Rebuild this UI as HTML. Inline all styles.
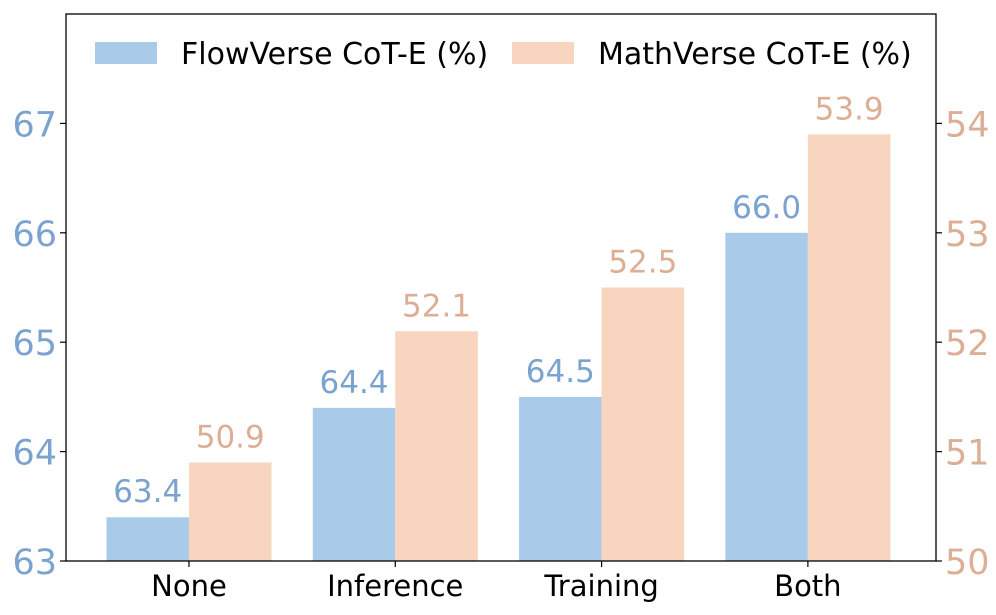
<!DOCTYPE html>
<html><head><meta charset="utf-8"><style>
body{margin:0;background:#fff;}
svg{display:block;font-family:"DejaVu Sans","Liberation Sans",sans-serif;}
</style></head><body>
<svg id="chart" width="996" height="615"></svg>
<script>
const categories=["None","Inference","Training","Both"];
const flowValues=[63.4,64.4,64.5,66.0];
const mathValues=[50.9,52.1,52.5,53.9];
const leftTicks=[63,64,65,66,67];
const rightTicks=[50,51,52,53,54];
const L=66,R=936,T=14,B=561;
const yL=v=>B-(v-63)/(68-63)*(B-T);
const yR=v=>B-(v-50)/(55-50)*(B-T);
const step=206.3;
const xC=i=>65.2+(i+0.6)*step;
const bw=step*0.4;
const svg=document.getElementById('chart');
const NS='http://www.w3.org/2000/svg';
function mk(tag,attrs,txt){const e=document.createElementNS(NS,tag);for(const k in attrs)e.setAttribute(k,attrs[k]);if(txt!==undefined)e.textContent=txt;svg.appendChild(e);return e;}
categories.forEach((c,i)=>{
  let b=mk('rect',{x:xC(i)-bw,y:yL(flowValues[i]),width:bw,height:B-yL(flowValues[i]),fill:'#a9cbe9'});
  
  
  let o=mk('rect',{x:xC(i),y:yR(mathValues[i]),width:bw,height:B-yR(mathValues[i]),fill:'#f8d5bf'});
  
  
  let t1=mk('text',{x:xC(i)-bw/2,y:yL(flowValues[i])-15,'text-anchor':'middle','font-size':31,fill:'#7ba3cf'},flowValues[i].toFixed(1));
  
  
  let t2=mk('text',{x:xC(i)+bw/2,y:yR(mathValues[i])-15,'text-anchor':'middle','font-size':31,fill:'#dcae95'},mathValues[i].toFixed(1));
  
  
  mk('line',{x1:xC(i),x2:xC(i),y1:B,y2:B+6,stroke:'#000','stroke-width':1.2});
  let cl=mk('text',{x:xC(i),y:B+35,'text-anchor':'middle','font-size':29,fill:'#000'},c);
  
  
});
leftTicks.forEach(v=>{
  mk('line',{x1:L-6,x2:L,y1:yL(v),y2:yL(v),stroke:'#000','stroke-width':1.2});
  let t=mk('text',{x:L-9,y:yL(v)+13,'text-anchor':'end','font-size':35,fill:'#7ba3cf'},v);
  
  
});
rightTicks.forEach(v=>{
  mk('line',{x1:R,x2:R+6,y1:yR(v),y2:yR(v),stroke:'#000','stroke-width':1.2});
  let t=mk('text',{x:R+9,y:yR(v)+13,'text-anchor':'start','font-size':35,fill:'#dcae95'},v);
  
  
});
let frame=mk('rect',{x:L,y:T,width:R-L,height:B-T,fill:'none',stroke:'#000','stroke-width':1.3});


</script>
<svg style="position:absolute;left:0;top:0" width="996" height="120">
  <g>
    <rect x="95" y="42" width="62" height="22" fill="#a9cbe9"/>
    <text x="181" y="64" font-size="30" fill="#000" font-family="DejaVu Sans, sans-serif">FlowVerse CoT-E (%)</text>
  </g>
  <g>
    <rect x="512" y="42" width="62" height="22" fill="#f8d5bf"/>
    <text x="598" y="64" font-size="30" fill="#000" font-family="DejaVu Sans, sans-serif">MathVerse CoT-E (%)</text>
  </g>
</svg>
</body></html>
